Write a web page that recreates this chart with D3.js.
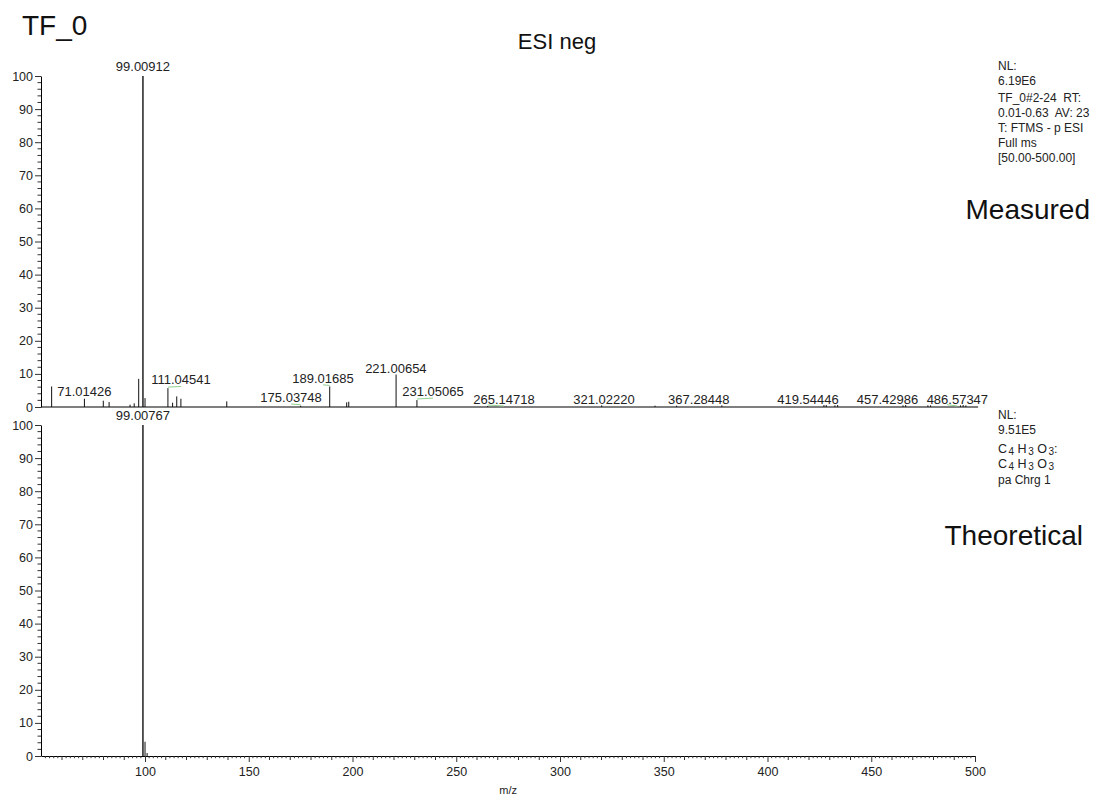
<!DOCTYPE html>
<html>
<head>
<meta charset="utf-8">
<script src="https://cdn.jsdelivr.net/npm/d3@7"></script>
<style>
  body { margin: 0; background: #fff; }
  svg { display: block; font-family: "Liberation Sans", Arial, sans-serif; }
</style>
</head>
<body>
<svg id="chart" width="1102" height="798"></svg>
<script>
// ---------------- DATA ----------------
const measuredMz = [55.0, 70.8, 79.9, 82.7, 92.8, 94.8, 96.96, 99.00912, 100.01, 111.04541, 113.3, 115.3, 117.3,
  139.4, 175.03748, 189.01685, 197.2, 198.2, 221.00654, 231.05065, 265.14718, 320.1, 345.8, 356.2, 378.0,
  427.2, 428.3, 432.5, 433.8, 465.3, 466.6, 477.3, 478.6, 493.0, 494.3, 495.6];
const measuredInt = [6.2, 2.5, 1.9, 1.5, 0.7, 1.1, 8.5, 100, 2.7, 5.7, 1.3, 3.2, 2.5,
  1.7, 0.4, 6.2, 1.4, 1.6, 9.8, 2.1, 0.3, 0.5, 0.4, 0.4, 0.5,
  0.6, 0.6, 0.5, 0.6, 0.5, 0.6, 0.5, 0.5, 0.5, 0.6, 0.5];

const measuredLabels = ["99.00912", "71.01426", "111.04541", "175.03748", "189.01685", "221.00654",
  "231.05065", "265.14718", "321.02220", "367.28448", "419.54446", "457.42986", "486.57347"];
const measuredLabelPeakMz = [99.00912, 70.8, 111.04541, 175.03748, 189.01685, 221.00654,
  231.05065, 265.14718, 320.1, 367.28, 419.54, 457.43, 486.57];
const measuredLabelPeakInt = [100, 2.5, 5.7, 0.4, 6.2, 9.8, 2.1, 0.3, 0.5, 0.3, 0.3, 0.3, 0.4];
const measuredLabelMz = [99.00912, 70.8, 117.35, 170.4, 185.8, 220.9, 238.8, 273.0, 321.2, 366.9, 419.5, 457.8, 491.5];
const measuredLabelInt = [101.5, 3.4, 6.8, 1.5, 7.3, 10.3, 3.3, 0.9, 0.9, 0.9, 0.9, 0.9, 0.9];
const connectorLabels = ["111.04541", "175.03748", "189.01685", "231.05065", "265.14718", "486.57347"];

const theoMz = [99.00767, 100.0110, 101.0135];
const theoInt = [100, 4.3, 0.9];
const theoLabels = ["99.00767"];
const theoLabelMz = [99.00767];
const theoLabelInt = [101.5];

const xTicks = [100, 150, 200, 250, 300, 350, 400, 450, 500];
const yTicks = [0, 10, 20, 30, 40, 50, 60, 70, 80, 90, 100];

const topInfo = ["NL:", "6.19E6", "TF_0#2-24  RT:", "0.01-0.63  AV: 23", "T: FTMS - p ESI", "Full ms", "[50.00-500.00]"];

// ---------------- LAYOUT ----------------
const svg = d3.select("#chart");
const x = d3.scaleLinear().domain([50, 500]).range([41.25, 975]);
const yTop = d3.scaleLinear().domain([0, 100]).range([407, 76]);
const yBot = d3.scaleLinear().domain([0, 100]).range([756, 425]);

function drawYAxis(y) {
  const g = svg.append("g").attr("transform", "translate(41,0)");
  g.call(d3.axisLeft(y).tickValues(yTicks).tickSize(6).tickPadding(2).tickSizeOuter(0))
    .call(s => s.select(".domain").attr("stroke", "#000"))
    .call(s => s.selectAll(".tick line").attr("stroke", "#333"))
    .call(s => s.selectAll(".tick text").attr("font-size", 12.5).attr("fill", "#222")
      .attr("font-family", "Liberation Sans, Arial, sans-serif"));
  const minor = d3.range(0, 101, 2).filter(v => v % 10 !== 0);
  g.selectAll(".minor").data(minor).join("line")
    .attr("x1", -3.5).attr("x2", 0)
    .attr("y1", d => y(d)).attr("y2", d => y(d))
    .attr("stroke", "#333").attr("stroke-width", 1);
}

drawYAxis(yTop);
drawYAxis(yBot);

// top panel baseline (no ticks)
svg.append("line").attr("x1", x(50)).attr("x2", x(501.5))
  .attr("y1", yTop(0)).attr("y2", yTop(0)).attr("stroke", "#000").attr("stroke-width", 1.2);

// bottom x axis
const gx = svg.append("g").attr("transform", `translate(0,${yBot(0)})`);
gx.call(d3.axisBottom(x).tickValues(xTicks).tickSize(6).tickPadding(5).tickSizeOuter(0))
  .call(s => s.select(".domain").attr("stroke", "#000"))
  .call(s => s.selectAll(".tick line").attr("stroke", "#333"))
  .call(s => s.selectAll(".tick text").attr("font-size", 12.5).attr("fill", "#222")
    .attr("font-family", "Liberation Sans, Arial, sans-serif"));
const xMinor = d3.range(52, 501, 2).filter(v => v % 50 !== 0);
gx.selectAll(".xminor").data(xMinor).join("line")
  .attr("x1", d => x(d)).attr("x2", d => x(d))
  .attr("y1", 0).attr("y2", d => d % 10 === 0 ? 4 : 2.2)
  .attr("stroke", "#333").attr("stroke-width", 1);

svg.append("text").attr("x", x(275)).attr("y", 794).attr("text-anchor", "middle")
  .attr("font-size", 11).attr("fill", "#222").text("m/z");

// ---------------- PEAKS ----------------
function drawPeaks(mz, inten, y) {
  svg.append("g").selectAll("line").data(mz).join("line")
    .attr("x1", d => x(d)).attr("x2", d => x(d))
    .attr("y1", y(0)).attr("y2", (d, i) => y(inten[i]))
    .attr("stroke", "#111").attr("stroke-width", (d, i) => inten[i] > 50 ? 1.4 : 1);
}
drawPeaks(measuredMz, measuredInt, yTop);
drawPeaks(theoMz, theoInt, yBot);

// connectors (green)
const conn = measuredLabels.map((t, i) => ({t, i})).filter(d => connectorLabels.includes(d.t));
svg.append("g").selectAll("line").data(conn).join("line")
  .attr("x1", d => x(measuredLabelPeakMz[d.i]))
  .attr("y1", d => yTop(measuredLabelPeakInt[d.i]) - 1)
  .attr("x2", d => x(measuredLabelMz[d.i]))
  .attr("y2", d => yTop(measuredLabelInt[d.i]) + 2)
  .attr("stroke", "#8fd18f").attr("stroke-width", 1);

function drawLabels(labels, lmz, lint, y) {
  svg.append("g").selectAll("text").data(labels).join("text")
    .attr("x", (d, i) => x(lmz[i])).attr("y", (d, i) => y(lint[i]))
    .attr("text-anchor", "middle").attr("font-size", 13).attr("fill", "#222")
    .text(d => d);
}
drawLabels(measuredLabels, measuredLabelMz, measuredLabelInt, yTop);
drawLabels(theoLabels, theoLabelMz, theoLabelInt, yBot);

// ---------------- TEXT ----------------
svg.append("text").attr("x", 22).attr("y", 35).attr("font-size", 28).attr("fill", "#111").text("TF_0");
svg.append("text").attr("x", 557).attr("y", 49).attr("text-anchor", "middle")
  .attr("font-size", 22).attr("fill", "#111").text("ESI neg");
svg.append("text").attr("x", 1090).attr("y", 219).attr("text-anchor", "end")
  .attr("font-size", 28).attr("fill", "#111").text("Measured");
svg.append("text").attr("x", 1083).attr("y", 545).attr("text-anchor", "end")
  .attr("font-size", 28).attr("fill", "#111").text("Theoretical");

const topY = [70, 85, 102, 117, 132, 147, 162];
svg.append("g").selectAll("text").data(topInfo).join("text")
  .attr("x", 998).attr("y", (d, i) => topY[i])
  .attr("font-size", 12).attr("fill", "#222").attr("xml:space", "preserve").text(d => d);

// bottom info with subscripts
const bInfo = svg.append("g").attr("font-size", 12.5).attr("fill", "#222");
bInfo.append("text").attr("x", 998).attr("y", 419).attr("font-size", 12).text("NL:");
bInfo.append("text").attr("x", 998).attr("y", 434).attr("font-size", 12).text("9.51E5");
const formulaParts = [["C", "4"], ["H", "3"], ["O", "3"]];
function formula(yPos, suffix) {
  const g = bInfo.append("g");
  let cx = 998;
  formulaParts.forEach((p) => {
    const el = g.append("text").attr("x", cx).attr("y", yPos).text(p[0]);
    cx += el.node().getComputedTextLength() + 1.5;
    const sub = g.append("text").attr("x", cx).attr("y", yPos + 2).attr("font-size", 10).text(p[1]);
    cx += sub.node().getComputedTextLength() + 3.5;
  });
  if (suffix) g.append("text").attr("x", cx - 3.5).attr("y", yPos).text(suffix);
}
formula(453, ":");
formula(468, "");
bInfo.append("text").attr("x", 998).attr("y", 484).attr("font-size", 12).text("pa Chrg 1");
</script>
</body>
</html>
